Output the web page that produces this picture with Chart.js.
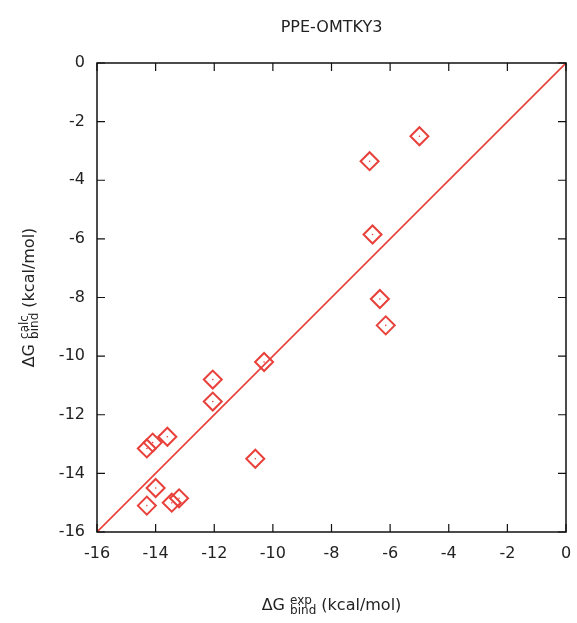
<!DOCTYPE html>
<html>
<head>
<meta charset="utf-8">
<script src="https://cdn.jsdelivr.net/npm/chart.js@4"></script>
<style>
  html, body { margin: 0; padding: 0; background: #fff; }
  #wrap { width: 577px; height: 623px; }
</style>
</head>
<body>
<div id="wrap"><canvas id="c" width="577" height="623"></canvas></div>
<script>
// ---- data ----
const expValues = [-5.0, -6.7, -6.6, -6.35, -6.15, -10.3, -12.05, -12.05, -13.6,
  -14.1, -14.3, -10.6, -14.0, -14.3, -13.45, -13.2];
const calcValues = [-2.5, -3.35, -5.85, -8.05, -8.95, -10.2, -10.8, -11.55, -12.75,
  -12.95, -13.15, -13.5, -14.5, -15.1, -15.0, -14.85];
const diagX = [-16, 0];
const diagY = [-16, 0];
const tickValues = [-16, -14, -12, -10, -8, -6, -4, -2, 0];

const RED = '#e8403a';
const FONT = 'DejaVu Sans';

const points = expValues.map((x, i) => ({ x, y: calcValues[i] }));
const diag = diagX.map((x, i) => ({ x, y: diagY[i] }));

// ---- box, inward ticks, title and axis labels ----
const framePlugin = {
  id: 'frame',
  afterDraw(chart) {
    const { ctx, chartArea: a, scales } = chart;
    ctx.save();
    ctx.strokeStyle = '#111';
    ctx.lineWidth = 1.5;
    ctx.strokeRect(a.left, a.top, a.right - a.left, a.bottom - a.top);
    ctx.lineWidth = 1.2;
    const tl = 8;
    tickValues.forEach((v) => {
      const px = scales.x.getPixelForValue(v);
      const py = scales.y.getPixelForValue(v);
      ctx.beginPath();
      ctx.moveTo(px, a.bottom); ctx.lineTo(px, a.bottom - tl);
      ctx.moveTo(px, a.top); ctx.lineTo(px, a.top + tl);
      ctx.moveTo(a.left, py); ctx.lineTo(a.left + tl, py);
      ctx.moveTo(a.right, py); ctx.lineTo(a.right - tl, py);
      ctx.stroke();
    });

    ctx.fillStyle = '#222';
    ctx.textBaseline = 'middle';
    ctx.textAlign = 'center';
    ctx.font = `16px "${FONT}"`;
    ctx.fillText('PPE-OMTKY3', (a.left + a.right) / 2, 28);

    // axis title: ΔG + stacked sup/sub + (kcal/mol)
    function axisTitle(sup, sub) {
      const big = `16px "${FONT}"`;
      const small = `12px "${FONT}"`;
      ctx.font = big;
      const w1 = ctx.measureText('ΔG ').width;
      const w3 = ctx.measureText(' (kcal/mol)').width;
      ctx.font = small;
      const w2 = Math.max(ctx.measureText(sup).width, ctx.measureText(sub).width);
      const total = w1 + w2 + w3;
      let x = -total / 2;
      ctx.textAlign = 'left';
      ctx.font = big;
      ctx.fillText('ΔG ', x, 0);
      x += w1;
      ctx.font = small;
      ctx.fillText(sup, x, -5);
      ctx.fillText(sub, x, 5);
      x += w2;
      ctx.font = big;
      ctx.fillText(' (kcal/mol)', x, 0);
    }

    ctx.save();
    ctx.translate((a.left + a.right) / 2, 606);
    axisTitle('exp', 'bind');
    ctx.restore();

    ctx.save();
    ctx.translate(30, (a.top + a.bottom) / 2);
    ctx.rotate(-Math.PI / 2);
    axisTitle('calc', 'bind');
    ctx.restore();

    ctx.restore();
  },
};

const tickFont = { family: FONT, size: 16 };

new Chart(document.getElementById('c'), {
  type: 'scatter',
  data: {
    datasets: [
      {
        label: 'y = x',
        type: 'line',
        data: diag,
        borderColor: RED,
        borderWidth: 1.6,
        pointRadius: 0,
        fill: false,
      },
      {
        label: 'points',
        data: points,
        pointStyle: 'rectRot',
        pointRadius: 9,
        pointBorderWidth: 2,
        borderColor: RED,
        backgroundColor: 'rgba(0,0,0,0)',
      },
      {
        label: 'centres',
        data: points,
        pointStyle: 'circle',
        pointRadius: 0.8,
        pointBorderWidth: 0,
        backgroundColor: RED,
        borderColor: RED,
      },
    ],
  },
  options: {
    responsive: false,
    animation: false,
    layout: { padding: { top: 63, right: 10, left: 0, bottom: 0 } },
    plugins: {
      legend: { display: false },
      title: { display: false },
      tooltip: { enabled: false },
    },
    scales: {
      x: {
        type: 'linear',
        min: -16,
        max: 0,
        afterBuildTicks: (s) => { s.ticks = tickValues.map((v) => ({ value: v })); },
        afterFit: (s) => { s.height = 91; s.paddingRight = 0; s.paddingLeft = 0; },
        grid: { display: false, drawTicks: false },
        border: { display: false },
        ticks: { font: tickFont, color: '#222', padding: 12 },
      },
      y: {
        type: 'linear',
        min: -16,
        max: 0,
        afterBuildTicks: (s) => { s.ticks = tickValues.map((v) => ({ value: v })); },
        afterFit: (s) => { s.width = 97; s.paddingTop = 0; s.paddingBottom = 0; },
        grid: { display: false, drawTicks: false },
        border: { display: false },
        ticks: { font: tickFont, color: '#222', padding: 12 },
      },
    },
  },
  plugins: [framePlugin],
});
</script>
</body>
</html>
